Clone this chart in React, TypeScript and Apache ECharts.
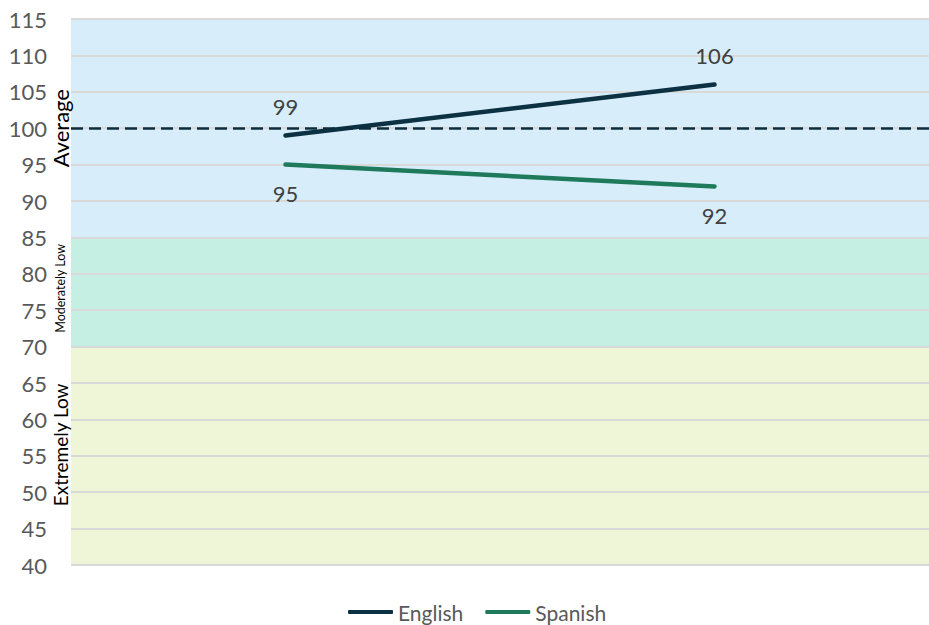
import React, { useEffect, useRef } from "react";
import * as echarts from "echarts";

const categories = ["Time 1", "Time 2"];
const englishValues = [99, 106];
const spanishValues = [95, 92];
const yTicks = { min: 40, max: 115, interval: 5 };
const averageLine = 100;
const bands = [
  { from: 40, to: 70, color: "#eff6d7" },
  { from: 70, to: 85, color: "#c5efe2" },
  { from: 85, to: 115, color: "#d7eefa" },
];
const bandLabels = [
  { text: "Average", y: 100, size: 22 },
  { text: "Moderately Low", y: 78, size: 12.5 },
  { text: "Extremely Low", y: 56.5, size: 19 },
];
const ENGLISH_COLOR = "#0c3142";
const SPANISH_COLOR = "#1e7a5b";

const FONT = "Lato, 'Open Sans', sans-serif";

export default function App() {
  const ref = useRef<HTMLDivElement>(null);
  useEffect(() => {
    document.body.style.margin = "0";
    const chart = echarts.init(ref.current!, undefined, { renderer: "svg" });
    const areaColors: string[] = [];
    for (let v = yTicks.min; v < yTicks.max; v += yTicks.interval) {
      const b = bands.find((bb) => v >= bb.from && v < bb.to);
      areaColors.push(b ? b.color : "#ffffff");
    }
    const labelBase = {
      show: true,
      distance: 17,
      fontFamily: FONT,
      fontSize: 22,
      color: "#404040",
    };
    chart.setOption({
      animation: false,
      grid: { left: 71, right: 0, top: 19, bottom: 60, containLabel: false },
      legend: {
        data: [
          { name: "English", itemStyle: { color: ENGLISH_COLOR, opacity: 1 } },
          { name: "Spanish", itemStyle: { color: SPANISH_COLOR, opacity: 1 } },
        ],
        left: 348,
        top: 600,
        padding: 0,
        icon: "roundRect",
        itemWidth: 45,
        itemHeight: 4,
        itemGap: 22,
        textStyle: { fontFamily: FONT, fontSize: 21, color: "#595959", lineHeight: 24 },
      },
      xAxis: {
        type: "category",
        data: categories,
        boundaryGap: true,
        axisLine: { show: false },
        axisTick: { show: false },
        axisLabel: { show: false },
      },
      yAxis: {
        type: "value",
        min: yTicks.min,
        max: yTicks.max,
        interval: yTicks.interval,
        axisLine: { show: false },
        axisTick: { show: false },
        axisLabel: { fontFamily: FONT, fontSize: 22, color: "#595959", margin: 24 },
        splitLine: { show: true, lineStyle: { color: "#d9d9d9", width: 1.8 } },
        splitArea: { show: true, areaStyle: { color: areaColors, opacity: 1 } },
      },
      series: [
        {
          name: "English",
          type: "line",
          data: englishValues,
          symbol: "circle",
          symbolSize: 2,
          showSymbol: true,
          itemStyle: { color: "rgba(0,0,0,0)" },
          lineStyle: { width: 4.5, color: ENGLISH_COLOR, cap: "round" },
          label: { ...labelBase, position: "top" },
          markLine: {
            silent: true,
            symbol: "none",
            label: { show: false },
            lineStyle: { type: [12, 6], color: "#0c2c3b", width: 2.5 },
            data: [{ yAxis: averageLine }],
          },
          z: 3,
        },
        {
          name: "Spanish",
          type: "line",
          data: spanishValues,
          symbol: "circle",
          symbolSize: 2,
          showSymbol: true,
          itemStyle: { color: "rgba(0,0,0,0)" },
          lineStyle: { width: 4.5, color: SPANISH_COLOR, cap: "round" },
          label: { ...labelBase, position: "bottom" },
          z: 3,
        },
      ],
    });
    const graphics = bandLabels.map((b) => {
      const py = chart.convertToPixel({ yAxisIndex: 0 }, b.y) as number;
      return {
        type: "text",
        x: 60,
        y: py,
        rotation: Math.PI / 2,
        z: 10,
        style: {
          text: b.text,
          fontFamily: FONT,
          fontSize: b.size,
          fill: "#000000",
          textAlign: "center",
          textVerticalAlign: "middle",
        },
      };
    });
    chart.setOption({ graphic: graphics });
    return () => chart.dispose();
  }, []);
  return <div ref={ref} style={{ width: 929, height: 625 }} />;
}
